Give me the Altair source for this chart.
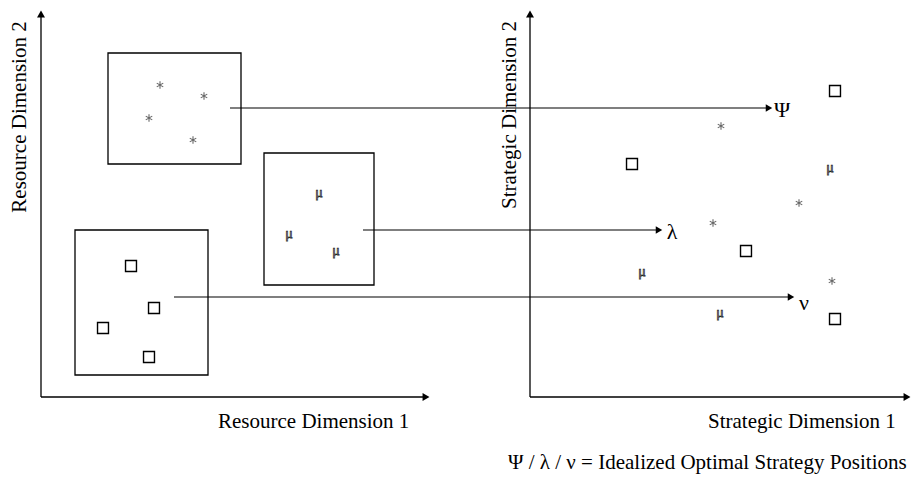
import altair as alt
import pandas as pd

FONT = "Liberation Serif"
ASTERISK = "M0,-1L0,1M-0.87,-0.5L0.87,0.5M-0.87,0.5L0.87,-0.5"

# ---- diagram coordinates (page units, y grows downward) ----
# axes: [x1, x2, y1, y2]
axis_x1 = [41, 41, 530, 530]
axis_x2 = [41, 426, 530, 907]
axis_y1 = [14, 397, 14, 397]
axis_y2 = [397, 397, 397, 397]
# arrow heads of the axes
head_x = [41, 426, 530, 907]
head_y = [14, 397, 14, 397]
head_shape = ["triangle-up", "triangle-right", "triangle-up", "triangle-right"]

# resource clusters (boxes)
box_x1 = [108, 264, 75]
box_x2 = [241, 374, 208]
box_y1 = [53, 153, 230]
box_y2 = [164, 285, 375]

# cluster members in resource space
star_res_x = [160, 204, 149, 193]
star_res_y = [85, 96, 118, 140]
mu_res_x = [319, 289, 336]
mu_res_y = [193, 234, 251]
sq_res_x = [131, 154, 103, 149]
sq_res_y = [266, 308, 328, 357]

# firms in strategic space
sq_str_x = [835, 632, 746, 835]
sq_str_y = [91, 164, 251, 319]
star_str_x = [721, 799, 713, 832]
star_str_y = [126, 203, 223, 281]
mu_str_x = [830, 642, 720]
mu_str_y = [168, 272, 313]

# mapping arrows to idealized positions
arr_x1 = [230, 363, 174]
arr_x2 = [769, 659, 791]
arr_y = [108, 230, 297]
arr_sym = ["Ψ", "λ", "ν"]
arr_lab_x = [782, 672, 804]
arr_lab_y = [110, 232, 303]

W, H = 904, 467
X = alt.X("x:Q", scale=alt.Scale(domain=[8, 8 + W], range=[0, W]), axis=None)
Y = alt.Y("y:Q", scale=alt.Scale(domain=[8, 8 + H], reverse=True), axis=None)
X2 = alt.X2("x2:Q")
Y2 = alt.Y2("y2:Q")

axes = alt.Chart(pd.DataFrame({"x": axis_x1, "x2": axis_x2, "y": axis_y1, "y2": axis_y2})).mark_rule(
    color="black", strokeWidth=1.3).encode(x=X, x2=X2, y=Y, y2=Y2)

heads = alt.Chart(pd.DataFrame({"x": head_x, "y": head_y, "s": head_shape})).mark_point(
    filled=True, color="black", size=64, opacity=1).encode(
    x=X, y=Y, shape=alt.Shape("s:N", scale=None, legend=None))

boxes = alt.Chart(pd.DataFrame({"x": box_x1, "x2": box_x2, "y": box_y1, "y2": box_y2})).mark_rect(
    fill=None, stroke="black", strokeWidth=1.3).encode(x=X, x2=X2, y=Y, y2=Y2)

arrows = alt.Chart(pd.DataFrame({"x": arr_x1, "x2": arr_x2, "y": arr_y})).mark_rule(
    color="black", strokeWidth=1.1).encode(x=X, x2=X2, y=Y)

arr_heads = alt.Chart(pd.DataFrame({"x": arr_x2, "y": arr_y})).mark_point(
    filled=True, color="black", size=56, opacity=1, shape="triangle-right").encode(x=X, y=Y)

arr_labels = alt.Chart(pd.DataFrame({"x": arr_lab_x, "y": arr_lab_y, "t": arr_sym})).mark_text(
    font=FONT, fontSize=22, color="black", align="center", baseline="middle").encode(
    x=X, y=Y, text="t:N")

squares = alt.Chart(pd.DataFrame({"x": sq_res_x + sq_str_x, "y": sq_res_y + sq_str_y})).mark_point(
    shape="square", filled=False, color="black", size=120, strokeWidth=1.4, opacity=1).encode(x=X, y=Y)

stars = alt.Chart(pd.DataFrame({"x": star_res_x + star_str_x, "y": star_res_y + star_str_y})).mark_point(
    shape=ASTERISK, filled=False, color="#666666", size=56, strokeWidth=1.1, opacity=1).encode(x=X, y=Y)

mus = alt.Chart(pd.DataFrame({"x": mu_res_x + mu_str_x, "y": mu_res_y + mu_str_y})).mark_text(
    text="μ", font=FONT, fontSize=14, fill="#222222", fillOpacity=0, stroke="#222222",
    strokeWidth=0.75, align="center", baseline="middle").encode(x=X, y=Y)

titles_h = alt.Chart(pd.DataFrame({"x": [218, 708], "y": [422, 422],
                                   "t": ["Resource Dimension 1", "Strategic Dimension 1"]})).mark_text(
    font=FONT, fontSize=21, color="black", align="left", baseline="middle").encode(
    x=X, y=Y, text="t:N")

titles_v = alt.Chart(pd.DataFrame({"x": [20, 510], "y": [117, 115],
                                   "t": ["Resource Dimension 2", "Strategic Dimension 2"]})).mark_text(
    font=FONT, fontSize=21, color="black", align="center", baseline="middle", angle=270).encode(
    x=X, y=Y, text="t:N")

legend = alt.Chart(pd.DataFrame({"x": [508], "y": [463],
                                 "t": ["Ψ / λ / ν = Idealized Optimal Strategy Positions"]})).mark_text(
    font=FONT, fontSize=21, color="black", align="left", baseline="middle").encode(
    x=X, y=Y, text="t:N")

chart = alt.layer(axes, heads, boxes, arrows, arr_heads, arr_labels, squares, stars, mus,
                  titles_h, titles_v, legend).properties(
    width=W, height=H, autosize=alt.AutoSizeParams(type="none"), padding=0,
    background="white").configure_view(stroke=None)

chart.save("out.html", embed_options={"renderer": "svg", "actions": False})
